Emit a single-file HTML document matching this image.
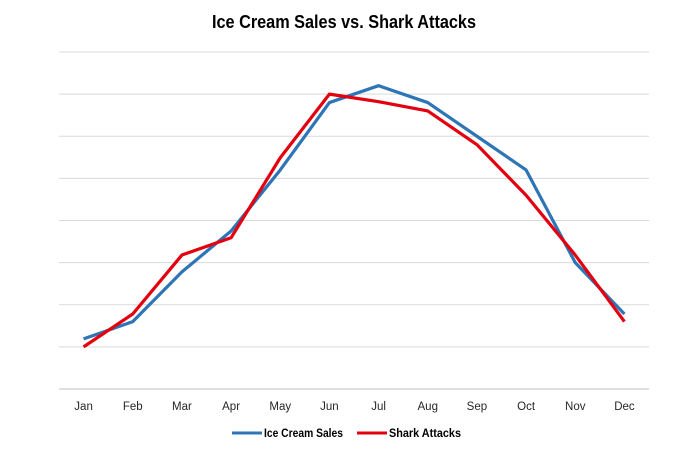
<!DOCTYPE html>
<html><head><meta charset="utf-8"><style>
body{margin:0;background:#fff;}
svg{display:block;font-family:"Liberation Sans",Arial,sans-serif;}
</style></head><body>
<svg id="chart" width="700" height="454">
<text x="212" y="28" textLength="264" lengthAdjust="spacingAndGlyphs" font-size="18" font-weight="bold" fill="#000">Ice Cream Sales vs. Shark Attacks</text>
<g id="grid"></g><g id="xlabels"></g><g id="series"></g>
<g>
<g>
<line x1="232" y1="433" x2="262" y2="433" stroke="#2E75B6" stroke-width="3"/>
<text x="264" y="437" textLength="79" lengthAdjust="spacingAndGlyphs" font-size="12" font-weight="bold" fill="#000">Ice Cream Sales</text></g>
<g>
<line x1="357" y1="433" x2="387" y2="433" stroke="#E3000F" stroke-width="3"/>
<text x="389" y="437" textLength="72" lengthAdjust="spacingAndGlyphs" font-size="12" font-weight="bold" fill="#000">Shark Attacks</text></g>
</g>
</svg>
<script>
const categories=["Jan","Feb","Mar","Apr","May","Jun","Jul","Aug","Sep","Oct","Nov","Dec"];
const iceCream=[1.19,1.6,2.78,3.75,5.2,6.8,7.2,6.8,6.0,5.2,3.0,1.78];
const sharks=[1.0,1.78,3.18,3.59,5.49,7.0,6.82,6.6,5.8,4.6,3.18,1.6];
const gridTicks=[0,1,2,3,4,5,6,7,8];
const NS="http://www.w3.org/2000/svg";
const L=59,R=649,B=389,T=52,maxV=8;
const x=i=>L+(R-L)/categories.length*(i+0.5);
const y=v=>B-(B-T)*v/maxV;
function mk(tag,attrs,parent){const e=document.createElementNS(NS,tag);for(const k in attrs)e.setAttribute(k,attrs[k]);parent.appendChild(e);return e;}
const grid=document.getElementById('grid');
gridTicks.forEach(t=>{const l=mk('line',{x1:L,x2:R,y1:y(t),y2:y(t),stroke:t===0?'#BFBFBF':'#D9D9D9','stroke-width':1},grid);

});
const xl=document.getElementById('xlabels');
categories.forEach((c,i)=>{const t=mk('text',{x:x(i),y:410,'text-anchor':'middle','font-size':11.5,fill:'#262626'},xl);t.textContent=c;

});
const s=document.getElementById('series');
[[iceCream,'#2E75B6','ice-cream-sales-line'],[sharks,'#E3000F','shark-attacks-line']].forEach(([d,col,n])=>{
const p=mk('polyline',{points:d.map((v,i)=>x(i)+','+y(v)).join(' '),fill:'none',stroke:col,'stroke-width':3.2,'stroke-linejoin':'round'},s);

});
</script>
</body></html>
